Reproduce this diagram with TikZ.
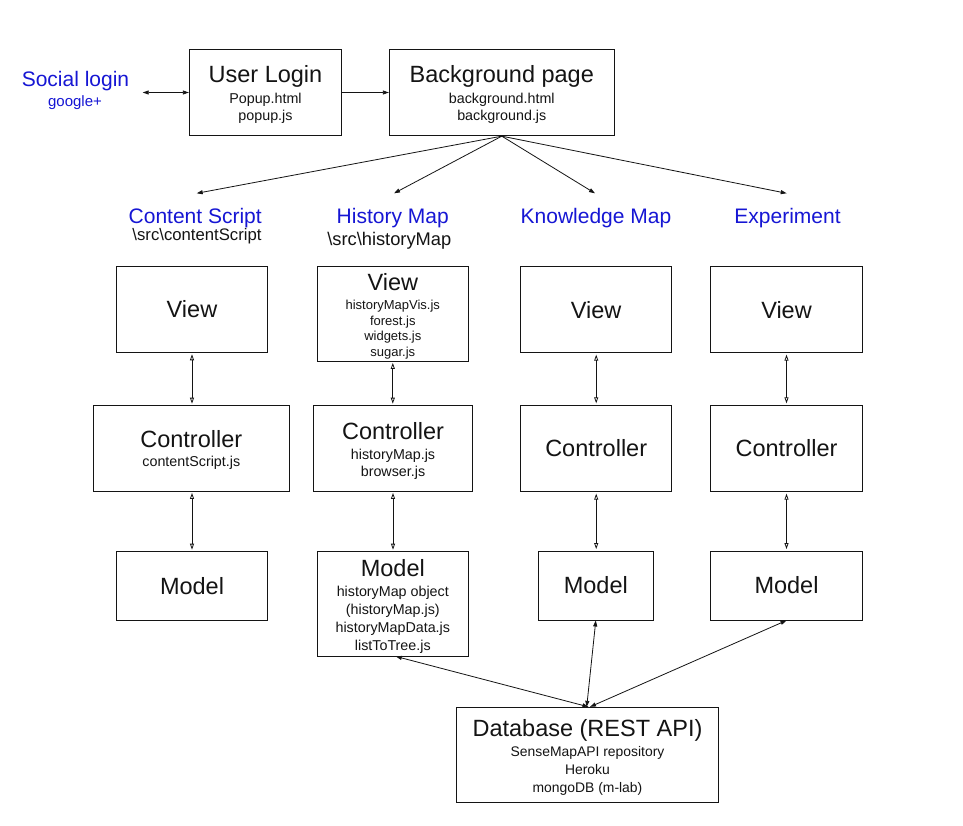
\documentclass[tikz,border=0pt]{standalone}
\usepackage{fontspec}
\setmainfont{Liberation Sans}
\usetikzlibrary{arrows.meta}
\definecolor{lblue}{RGB}{22,22,212}
\definecolor{ink}{RGB}{20,20,20}
\tikzset{
  box/.style={draw=ink, line width=0.9pt, inner sep=0pt},
  ttl/.style={font=\fontsize{23.5}{28}\selectfont, anchor=base, inner sep=0pt, text=ink},
  sm/.style={font=\fontsize{14.3}{17}\selectfont, anchor=base, inner sep=0pt, text=ink},
  tiny/.style={font=\fontsize{13}{16}\selectfont, anchor=base, inner sep=0pt, text=ink},
  lbl/.style={font=\fontsize{21}{25}\selectfont, anchor=base, inner sep=0pt, text=lblue},
  arr/.style={draw=ink, line width=0.8pt, -{Triangle[length=6pt,width=4pt]}},
  dbl/.style={draw=ink, line width=0.8pt, {Triangle[length=6pt,width=4pt]}-{Triangle[length=6pt,width=4pt]}},
  varr/.style={draw=ink, line width=0.8pt, {Triangle[open,length=6pt,width=4pt]}-{Triangle[open,length=6pt,width=4pt]}, shorten <=1.5pt, shorten >=1.5pt},
}
\begin{document}
\begin{tikzpicture}[x=1pt,y=-1pt]
\useasboundingbox[fill=white] (0,0) rectangle (963,825);

% Social login
\node[lbl] (social) at (75.5,86.7) {Social login};
\node[lbl, font=\fontsize{15}{18}\selectfont] (gplus) at (75,106.7) {google+};
\coordinate (slEnd) at (142.7,92.5);

% User Login
\node[box, minimum width=152.4pt, minimum height=86.4pt] (ul) at (265.5,92.5) {};
\node[ttl] (ulT) at (265.5,82.7) {User Login};
\node[sm] (ulA) at (265.5,103.3) {Popup.html};
\node[sm] (ulB) at (265.5,120) {popup.js};

% Background page
\node[box, minimum width=225pt, minimum height=86.4pt] (bg) at (501.8,92.5) {};
\node[ttl] (bgT) at (501.8,82.7) {Background page};
\node[sm] (bgA) at (501.8,103.3) {background.html};
\node[sm] (bgB) at (501.8,120) {background.js};

\draw[dbl] (slEnd) -- (ul.west);
\draw[arr] (ul.east) -- (bg.west);

% Section labels
\node[lbl] (csL) at (195.2,223.5) {Content Script};
\node[sm, font=\fontsize{16.7}{20}\selectfont] (csP) at (197,240) {\textbackslash src\textbackslash contentScript};
\node[lbl] (hmL) at (392.7,223.5) {History Map};
\node[sm, font=\fontsize{18.3}{22}\selectfont] (hmP) at (389.3,245) {\textbackslash src\textbackslash historyMap};
\node[lbl] (kmL) at (596,223.5) {Knowledge Map};
\node[lbl] (exL) at (787.5,223.5) {Experiment};

\coordinate (tipCS) at (196.7,193.3);
\coordinate (tipHM) at (394,193.3);
\coordinate (tipKM) at (595,193.3);
\coordinate (tipEX) at (786.7,193.3);
\draw[arr] (bg.south) -- (tipCS);
\draw[arr] (bg.south) -- (tipHM);
\draw[arr] (bg.south) -- (tipKM);
\draw[arr] (bg.south) -- (tipEX);

% Column 1: Content Script
\node[box, minimum width=150.6pt, minimum height=85.6pt] (v1) at (192,309.5) {};
\node[ttl] (v1T) at (192,317.9) {View};
\node[box, minimum width=196pt, minimum height=85.3pt] (c1) at (191.3,448.3) {};
\node[ttl] (c1T) at (191.3,447.7) {Controller};
\node[sm] (c1A) at (191.3,466.7) {contentScript.js};
\node[box, minimum width=150.6pt, minimum height=68.3pt] (m1) at (192,585.8) {};
\node[ttl] (m1T) at (192,594.2) {Model};
\draw[varr] (v1.south) -- (v1.south |- c1.north);
\draw[varr] (v1.south |- c1.south) -- (m1.north);

% Column 2: History Map
\node[box, minimum width=151pt, minimum height=94.3pt] (v2) at (392.8,313.8) {};
\node[ttl] (v2T) at (392.8,290.7) {View};
\node[tiny] (v2A) at (392.8,309) {historyMapVis.js};
\node[tiny] (v2B) at (392.8,325) {forest.js};
\node[tiny] (v2C) at (392.8,340.7) {widgets.js};
\node[tiny] (v2D) at (392.8,356.5) {sugar.js};
\node[box, minimum width=159.4pt, minimum height=85.3pt] (c2) at (393,448.3) {};
\node[ttl] (c2T) at (393,439.3) {Controller};
\node[sm] (c2A) at (393,459.3) {historyMap.js};
\node[sm] (c2B) at (393,476) {browser.js};
\node[box, minimum width=151pt, minimum height=104.3pt] (m2) at (392.8,603.8) {};
\node[ttl] (m2T) at (392.8,576) {Model};
\node[sm] (m2A) at (392.8,596.7) {historyMap object};
\node[sm] (m2B) at (392.8,614.7) {(historyMap.js)};
\node[sm] (m2C) at (392.8,632.5) {historyMapData.js};
\node[sm] (m2D) at (392.8,650) {listToTree.js};
\draw[varr] (v2.south) -- (v2.south |- c2.north);
\draw[varr] (c2.south) -- (c2.south |- m2.north);

% Column 3: Knowledge Map
\node[box, minimum width=151pt, minimum height=86pt] (v3) at (596.2,309.7) {};
\node[ttl] (v3T) at (596.2,318.1) {View};
\node[box, minimum width=151pt, minimum height=86.4pt] (c3) at (596.2,448.5) {};
\node[ttl] (c3T) at (596.2,456.9) {Controller};
\node[box, minimum width=115pt, minimum height=69pt] (m3) at (595.8,585.5) {};
\node[ttl] (m3T) at (595.8,593.9) {Model};
\draw[varr] (v3.south) -- (v3.south |- c3.north);
\draw[varr] (c3.south) -- (c3.south |- m3.north);

% Column 4: Experiment
\node[box, minimum width=152.4pt, minimum height=86pt] (v4) at (786.5,309.7) {};
\node[ttl] (v4T) at (786.5,318.1) {View};
\node[box, minimum width=152.4pt, minimum height=86.4pt] (c4) at (786.5,448.5) {};
\node[ttl] (c4T) at (786.5,456.9) {Controller};
\node[box, minimum width=152.4pt, minimum height=69pt] (m4) at (786.5,585.5) {};
\node[ttl] (m4T) at (786.5,593.9) {Model};
\draw[varr] (v4.south) -- (v4.south |- c4.north);
\draw[varr] (c4.south) -- (c4.south |- m4.north);

% Database
\node[box, minimum width=261.6pt, minimum height=95pt] (db) at (587.5,754.8) {};
\node[ttl] (dbT) at (587.5,736) {Database (REST API)};
\node[sm, font=\fontsize{13.9}{17}\selectfont] (dbA) at (587.5,756.7) {SenseMapAPI repository};
\node[sm, font=\fontsize{13.9}{17}\selectfont] (dbB) at (587.5,774) {Heroku};
\node[sm, font=\fontsize{13.9}{17}\selectfont] (dbC) at (587.5,792.7) {mongoDB (m-lab)};

\draw[dbl] ([xshift=3pt]m2.south) -- ([xshift=1pt]db.north);
\draw[dbl] (m3.south) -- ([xshift=-0.8pt]db.north);
\draw[dbl] (m4.south) -- ([xshift=2.5pt]db.north);
\end{tikzpicture}
\end{document}
